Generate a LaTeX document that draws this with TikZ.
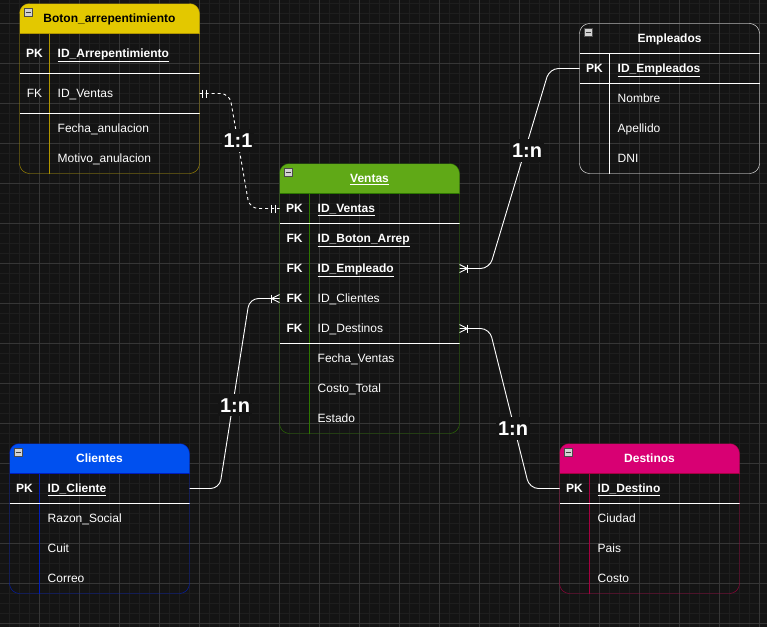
\documentclass[tikz,border=0pt]{standalone}
\usepackage{fontspec}
\setmainfont{Liberation Sans}
\usetikzlibrary{calc}

\definecolor{bgc}{HTML}{141414}
\definecolor{gridmin}{HTML}{1E1E1E}
\definecolor{gridmaj}{HTML}{363636}
\definecolor{botonfill}{HTML}{E3C800}
\definecolor{botonline}{HTML}{B09500}
\definecolor{ventasfill}{HTML}{60A917}
\definecolor{ventasline}{HTML}{2D7600}
\definecolor{clifill}{HTML}{0050EF}
\definecolor{cliline}{HTML}{001DBC}
\definecolor{destfill}{HTML}{D80073}
\definecolor{destline}{HTML}{A50040}

\tikzset{
 cell/.style={text=white,inner sep=0pt,text height=8.6pt,text depth=0pt,font=\fontsize{12}{14}\selectfont},
 keycell/.style={cell,font=\fontsize{12}{14}\selectfont\bfseries},
 field/.style={cell,anchor=west},
 keyfield/.style={field,font=\fontsize{12}{14}\selectfont\bfseries},
 title/.style={cell,font=\fontsize{12}{14}\selectfont\bfseries},
 rel/.style={draw=white,line width=0.9pt,rounded corners=9},
 tick/.style={draw=white,line width=0.9pt},
 lbl/.style={fill=bgc,text=white,font=\fontsize{20}{22}\selectfont\bfseries,inner xsep=2pt,inner ysep=4pt,text height=14.3pt,text depth=0pt},
 collapse/.style={fill=gray!35,draw=gray!60!black,line width=0.6pt},
}

\begin{document}
\begin{tikzpicture}[x=1pt,y=-1pt]
 \useasboundingbox (0,0) rectangle (767,627);
 \fill[bgc] (0,0) rectangle (767,627);
 % grid
 \foreach \x in {0,...,75} \draw[gridmin,line width=0.8pt] ({9.5+10*\x},0) -- ({9.5+10*\x},627);
 \foreach \y in {0,...,62} \draw[gridmin,line width=0.8pt] (0,{3.5+10*\y}) -- (767,{3.5+10*\y});
 \foreach \x in {0,...,18} \draw[gridmaj,line width=0.8pt] ({39.5+40*\x},0) -- ({39.5+40*\x},627);
 \foreach \y in {0,...,15} \draw[gridmaj,line width=0.8pt] (0,{23.5+40*\y}) -- (767,{23.5+40*\y});

 % Boton_arrepentimiento
 \begin{scope}
  \clip[rounded corners=10] (19.5,3.5) rectangle (199.5,173.5);
  \fill[botonfill] (19.5,3.5) rectangle (199.5,33.5);
 \end{scope}
 \draw[botonline] (19.5,33.5) -- (199.5,33.5);
 \draw[botonline] (49.5,33.5) -- (49.5,173.5);
 \draw[white] (19.5,73.5) -- (199.5,73.5);
 \draw[white] (19.5,113.5) -- (199.5,113.5);
 \draw[botonline,rounded corners=10] (19.5,3.5) rectangle (199.5,173.5);
 \filldraw[collapse] (24,8) rectangle (32.5,16.5);
 \draw[black!75,line width=1pt] (25.5,12.25) -- (31,12.25);
 \node[title,text=black] (bTitle) at (109.5,18.5) {Boton\_arrepentimiento};
 \node[keycell] (bPKk) at (34.5,53.5) {PK};
 \node[keyfield] (bPK) at (57.5,53.5) {\underline{ID\_Arrepentimiento}};
 \node[cell] (bFKk) at (34.5,93.5) {FK};
 \node[field] (bFK) at (57.5,93.5) {ID\_Ventas};
 \foreach \t [count=\i] in {Fecha\_anulacion,Motivo\_anulacion}
  \node[field] (bAt\i) at (57.5,{98.5+30*\i}) {\t};

 % Ventas
 \begin{scope}
  \clip[rounded corners=10] (279.5,163.5) rectangle (459.5,433.5);
  \fill[ventasfill] (279.5,163.5) rectangle (459.5,193.5);
 \end{scope}
 \draw[ventasline] (279.5,193.5) -- (459.5,193.5);
 \draw[ventasline] (309.5,193.5) -- (309.5,433.5);
 \draw[white] (279.5,223.5) -- (459.5,223.5);
 \draw[white] (279.5,343.5) -- (459.5,343.5);
 \draw[ventasline,rounded corners=10] (279.5,163.5) rectangle (459.5,433.5);
 \filldraw[collapse] (284,168) rectangle (292.5,176.5);
 \draw[black!75,line width=1pt] (285.5,172.25) -- (291,172.25);
 \node[title] (vTitle) at (369.5,178.5) {\underline{Ventas}};
 \node[keycell] (vPKk) at (294.5,208.5) {PK};
 \node[keyfield] (vPK) at (317.5,208.5) {\underline{ID\_Ventas}};
 \node[keycell] (vFK1k) at (294.5,238.5) {FK};
 \node[keyfield] (vBA) at (317.5,238.5) {\underline{ID\_Boton\_Arrep}};
 \node[keycell] (vFK2k) at (294.5,268.5) {FK};
 \node[keyfield] (vEM) at (317.5,268.5) {\underline{ID\_Empleado}};
 \node[keycell] (vFK3k) at (294.5,298.5) {FK};
 \node[field] (vCL) at (317.5,298.5) {ID\_Clientes};
 \node[keycell] (vFK4k) at (294.5,328.5) {FK};
 \node[field] (vDE) at (317.5,328.5) {ID\_Destinos};
 \foreach \t [count=\i] in {Fecha\_Ventas,Costo\_Total,Estado}
  \node[field] (vAt\i) at (317.5,{328.5+30*\i}) {\t};

 % Empleados
 \draw[white] (579.5,53.5) -- (759.5,53.5);
 \draw[white] (609.5,53.5) -- (609.5,173.5);
 \draw[white] (579.5,83.5) -- (759.5,83.5);
 \draw[white,rounded corners=10] (579.5,23.5) rectangle (759.5,173.5);
 \filldraw[collapse] (584,28) rectangle (592.5,36.5);
 \draw[black!75,line width=1pt] (585.5,32.25) -- (591,32.25);
 \node[title] (eTitle) at (669.5,38.5) {Empleados};
 \node[keycell] (ePKk) at (594.5,68.5) {PK};
 \node[keyfield] (ePK) at (617.5,68.5) {\underline{ID\_Empleados}};
 \foreach \t [count=\i] in {Nombre,Apellido,DNI}
  \node[field] (eAt\i) at (617.5,{68.5+30*\i}) {\t};

 % Clientes
 \begin{scope}
  \clip[rounded corners=10] (9.5,443.5) rectangle (189.5,593.5);
  \fill[clifill] (9.5,443.5) rectangle (189.5,473.5);
 \end{scope}
 \draw[cliline] (9.5,473.5) -- (189.5,473.5);
 \draw[cliline] (39.5,473.5) -- (39.5,593.5);
 \draw[white] (9.5,503.5) -- (189.5,503.5);
 \draw[cliline,rounded corners=10] (9.5,443.5) rectangle (189.5,593.5);
 \filldraw[collapse] (14,448) rectangle (22.5,456.5);
 \draw[black!75,line width=1pt] (15.5,452.25) -- (21,452.25);
 \node[title] (cTitle) at (99.5,458.5) {Clientes};
 \node[keycell] (cPKk) at (24.5,488.5) {PK};
 \node[keyfield] (cPK) at (47.5,488.5) {\underline{ID\_Cliente}};
 \foreach \t [count=\i] in {Razon\_Social,Cuit,Correo}
  \node[field] (cAt\i) at (47.5,{488.5+30*\i}) {\t};

 % Destinos
 \begin{scope}
  \clip[rounded corners=10] (559.5,443.5) rectangle (739.5,593.5);
  \fill[destfill] (559.5,443.5) rectangle (739.5,473.5);
 \end{scope}
 \draw[destline] (559.5,473.5) -- (739.5,473.5);
 \draw[destline] (589.5,473.5) -- (589.5,593.5);
 \draw[white] (559.5,503.5) -- (739.5,503.5);
 \draw[destline,rounded corners=10] (559.5,443.5) rectangle (739.5,593.5);
 \filldraw[collapse] (564,448) rectangle (572.5,456.5);
 \draw[black!75,line width=1pt] (565.5,452.25) -- (571,452.25);
 \node[title] (dTitle) at (649.5,458.5) {Destinos};
 \node[keycell] (dPKk) at (574.5,488.5) {PK};
 \node[keyfield] (dPK) at (597.5,488.5) {\underline{ID\_Destino}};
 \foreach \t [count=\i] in {Ciudad,Pais,Costo}
  \node[field] (dAt\i) at (597.5,{488.5+30*\i}) {\t};

 % ports
 \coordinate (bFKr) at (199.5,93.5);
 \coordinate (vPKl) at (279.5,208.5);
 \coordinate (vEMr) at (459.5,268.5);
 \coordinate (ePKl) at (579.5,68.5);
 \coordinate (vCLl) at (279.5,298.5);
 \coordinate (cPKr) at (189.5,488.5);
 \coordinate (vDEr) at (459.5,328.5);
 \coordinate (dPKl) at (559.5,488.5);

 % relations
 \draw[rel,dash pattern=on 3pt off 3pt] (bFKr) -- ++(30,0) -- ($(vPKl)+(-30,0)$) -- (vPKl);
 \draw[tick] ($(bFKr)+(3,-4)$) -- ++(0,8);
 \draw[tick] ($(bFKr)+(7,-4)$) -- ++(0,8);
 \draw[tick] ($(vPKl)+(-4,-4)$) -- ++(0,8);
 \draw[tick] ($(vPKl)+(-8,-4)$) -- ++(0,8);

 \draw[rel] (vEMr) -- ++(30,0) -- ($(ePKl)+(-30,0)$) -- (ePKl);
 \draw[tick] ($(vEMr)+(0,-4)$) -- ($(vEMr)+(8,0)$) -- ($(vEMr)+(0,4)$);
 \draw[tick] ($(vEMr)+(8,-4)$) -- ++(0,8);

 \draw[rel] (cPKr) -- ++(30,0) -- ($(vCLl)+(-30,0)$) -- (vCLl);
 \draw[tick] ($(vCLl)+(0,-4)$) -- ($(vCLl)+(-8,0)$) -- ($(vCLl)+(0,4)$);
 \draw[tick] ($(vCLl)+(-8,-4)$) -- ++(0,8);

 \draw[rel] (vDEr) -- ++(30,0) -- ($(dPKl)+(-30,0)$) -- (dPKl);
 \draw[tick] ($(vDEr)+(0,-4)$) -- ($(vDEr)+(8,0)$) -- ($(vDEr)+(0,4)$);
 \draw[tick] ($(vDEr)+(8,-4)$) -- ++(0,8);

 \node[lbl] (rBV) at (238,140.5) {1:1};
 \node[lbl] (rVE) at (527,150.5) {1:n};
 \node[lbl] (rCV) at (235,405) {1:n};
 \node[lbl] (rVD) at (513,428.5) {1:n};
\end{tikzpicture}
\end{document}
